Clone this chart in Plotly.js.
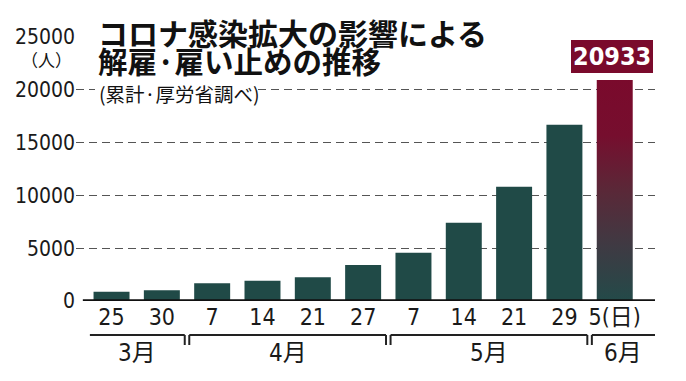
<!DOCTYPE html>
<html><head><meta charset="utf-8">
<script src="https://cdn.plot.ly/plotly-3.0.1.min.js"></script>
<style>html,body{margin:0;padding:0;background:#fff}#chart{width:686px;height:381px}</style>
</head><body><div id="chart"></div>
<script>
// ---- data ----
const dayLabels = ["25","30","7","14","21","27","7","14","21","29","5(日)"];
const monthOfDay = ["3月","3月","4月","4月","4月","4月","5月","5月","5月","5月","6月"];
const cumulative = [880,1020,1680,1910,2250,3420,4560,7420,10820,16700,20933];
const titleLine1 = "コロナ感染拡大の影響による";
const titleLine2 = "解雇·雇い止めの推移";
const subtitle = "(累計·厚労省調べ)";
const unitLabel = "（人）";
const yTicks = [0,5000,10000,15000,20000,25000];

// ---- layout helpers ----
const W = 686, H = 381;
const L = 76, R = 655, T = 37, B = 301;
const px = x => (x - L) / (R - L);
const py = y => (B - y) / (B - T);
const numFont = "Liberation Sans Narrow, DejaVu Sans Condensed, Noto Sans CJK JP, sans-serif";
const badgeFont = "DejaVu Sans Condensed, Liberation Sans Narrow, sans-serif";
const jpFont = "Noto Sans CJK JP, sans-serif";

const idx = dayLabels.map((_, i) => i);
const teal = "#204a47";
const colors = cumulative.map((v, i) => i === cumulative.length - 1 ? "#7a0a2c" : teal);

const trace = {
  type: "bar", x: idx, y: cumulative, width: 0.715,
  marker: {color: colors, line: {width: 0}},
  hoverinfo: "skip"
};

// month brackets
const shapes = [];
const annotations = [];
const xStart = -0.43, xEnd = 10.8;
const groups = [];
monthOfDay.forEach((m, i) => {
  if (!groups.length || groups[groups.length - 1].m !== m) groups.push({m, a: i, b: i});
  else groups[groups.length - 1].b = i;
});
const yLine = py(335), yTick = py(345), yMonth = py(353);
groups.forEach((g, k) => {
  const x0 = k === 0 ? xStart : g.a - 0.5 + 0.045;
  const x1 = k === groups.length - 1 ? xEnd : g.b + 0.5 - 0.045;
  shapes.push({type: "line", xref: "x", yref: "paper", x0, x1, y0: yLine, y1: yLine, line: {color: "#222", width: 2}});
  if (k > 0) shapes.push({type: "line", xref: "x", yref: "paper", x0, x1: x0, y0: yLine, y1: yTick, line: {color: "#222", width: 2}});
  if (k < groups.length - 1) shapes.push({type: "line", xref: "x", yref: "paper", x0: x1, x1: x1, y0: yLine, y1: yTick, line: {color: "#222", width: 2}});
  annotations.push({xref: "x", yref: "paper", x: (x0 + x1) / 2, y: yMonth, text: g.m, showarrow: false,
    xanchor: "center", yanchor: "middle", font: {family: numFont, size: 24, color: "#1a1a1a"}});
});
// x axis base line
shapes.push({type: "line", xref: "x", yref: "y", x0: -0.57, x1: xEnd, y0: 0, y1: 0, line: {color: "#111", width: 3.5}, layer: "above"});
// white knock-outs so the gridlines stop around the title block
shapes.push({type: "rect", xref: "paper", yref: "paper", x0: px(93), x1: px(492), y0: py(42), y1: py(32),
  fillcolor: "#fff", line: {width: 0}, layer: "above"});
shapes.push({type: "rect", xref: "paper", yref: "paper", x0: px(95), x1: px(256), y0: py(95), y1: py(85),
  fillcolor: "#fff", line: {width: 0}, layer: "above"});

// titles
annotations.push({xref: "paper", yref: "paper", x: px(97), y: py(93), xanchor: "left", yanchor: "middle",
  text: subtitle, showarrow: false, font: {family: jpFont, size: 19.5, color: "#111"}});
annotations.push({xref: "paper", yref: "paper", x: px(96), y: py(60), xanchor: "left", yanchor: "middle",
  text: "<b>" + titleLine2 + "</b>", showarrow: false, font: {family: jpFont, size: 29.5, color: "#111"}});
annotations.push({xref: "paper", yref: "paper", x: px(96), y: py(31.5), xanchor: "left", yanchor: "middle",
  text: "<b>" + titleLine1 + "</b>", showarrow: false, font: {family: jpFont, size: 30, color: "#111"}});
annotations.push({xref: "paper", yref: "paper", x: px(46), y: py(59), xanchor: "center", yanchor: "middle",
  text: unitLabel, showarrow: false, font: {family: jpFont, size: 17, color: "#111"}});
// highlight label
const last = cumulative.length - 1;
annotations.push({xref: "x", yref: "y", x: idx[last] - 0.06, y: cumulative[last], xanchor: "center", yanchor: "bottom",
  yshift: 7, text: "<b>" + String(cumulative[last]) + "</b>", showarrow: false,
  bgcolor: "#7a0a2c", bordercolor: "#7a0a2c", borderpad: 1, borderwidth: 1,
  font: {family: badgeFont, size: 25, color: "#fff"}});

const layout = {
  width: W, height: H,
  margin: {l: L, r: W - R, t: T, b: H - B},
  paper_bgcolor: "#fff", plot_bgcolor: "#fff",
  showlegend: false,
  xaxis: {range: [-0.706, 10.8], tickvals: idx, ticktext: dayLabels, showgrid: false, zeroline: false,
    showline: false, ticks: "", tickfont: {family: numFont, size: 23, color: "#1a1a1a"}, fixedrange: true},
  yaxis: {range: [0, 25000], tickvals: yTicks, ticktext: yTicks.map(String), showgrid: true,
    gridcolor: "#555", gridwidth: 1.3, griddash: "8px,5px", zeroline: false, showline: false, ticks: "",
    tickfont: {family: numFont, size: 21, color: "#1a1a1a"}, fixedrange: true},
  shapes, annotations
};

Plotly.newPlot("chart", [trace], layout, {staticPlot: true, displayModeBar: false}).then(gd => {
  const svg = gd.querySelector("svg.main-svg");
  const ns = "http://www.w3.org/2000/svg";
  let defs = svg.querySelector("defs");
  if (!defs) { defs = document.createElementNS(ns, "defs"); svg.insertBefore(defs, svg.firstChild); }
  const lg = document.createElementNS(ns, "linearGradient");
  lg.setAttribute("id", "lastBarGrad");
  lg.setAttribute("x1", "0"); lg.setAttribute("y1", "0"); lg.setAttribute("x2", "0"); lg.setAttribute("y2", "1");
  [[0, "#7a0a2c"], [0.25, "#760e2e"], [0.5, "#5a2838"], [0.75, "#3f3a43"], [1, "#234a49"]].forEach(([o, c]) => {
    const s = document.createElementNS(ns, "stop");
    s.setAttribute("offset", o); s.setAttribute("stop-color", c); lg.appendChild(s);
  });
  defs.appendChild(lg);
  const paths = gd.querySelectorAll(".barlayer .point path");
  if (paths.length) paths[paths.length - 1].style.fill = "url(#lastBarGrad)";
});
</script></body></html>
